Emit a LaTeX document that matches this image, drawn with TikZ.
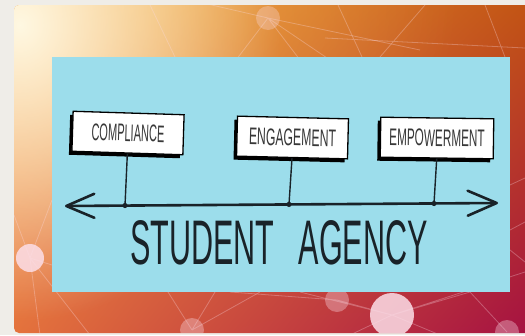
\documentclass[tikz,border=0pt]{standalone}
\usepackage{fontspec}
\setmainfont{Liberation Sans}
\usepackage{xcolor}
\usetikzlibrary{arrows.meta,positioning,shadows,fadings,shadings}

\definecolor{pagegray}{RGB}{239,237,232}
\definecolor{skypanel}{RGB}{156,221,235}
\definecolor{inkdark}{RGB}{25,34,40}
\definecolor{glowcream}{RGB}{255,248,226}
\definecolor{warmtl}{RGB}{246,168,80}
\definecolor{warmtr}{RGB}{194,84,20}
\definecolor{warmbl}{RGB}{228,114,60}
\definecolor{warmbr}{RGB}{166,18,66}
\definecolor{netpink}{RGB}{252,222,232}

% soft radial glow
\tikzfading[name=glowfade, inner color=transparent!0, outer color=transparent!100]

% squeeze text sideways into a condensed look
\newcommand{\narrowtext}[2][0.55]{\scalebox{#1}[1]{#2}}

\tikzset{
  stagebox/.style={draw=black, line width=1.3pt, fill=white, inner sep=0pt,
    minimum width=111pt, minimum height=40pt, text=black!78,
    font=\fontsize{24}{24}\selectfont,
    drop shadow={shadow xshift=-3pt, shadow yshift=-3.5pt, fill=black, opacity=1}},
  stem/.style={inkdark, line width=1.4pt},
  axisline/.style={inkdark, line width=2.6pt, line cap=round,
    arrows={Straight Barb[length=28pt,width=24pt,round]-Straight Barb[length=29pt,width=25pt,round]}},
  netline/.style={netpink, opacity=0.3, line width=0.8pt},
  netdot/.style={fill=netpink, opacity=#1},
}

\begin{document}
\begin{tikzpicture}[x=1pt, y=-1pt]
  \useasboundingbox (0,0) rectangle (525,335);
  \fill[pagegray] (0,0) rectangle (525,335);

  % warm backdrop card
  \begin{scope}
    \clip[rounded corners=5pt] (14,5) rectangle (540,333);
    \shade[upper left=warmtl, upper right=warmtr, lower left=warmbl, lower right=warmbr]
      (14,5) rectangle (525,333);
    \fill[warmtl!70!yellow!90!white, opacity=0.4, path fading=glowfade] (-160,-260) rectangle (460,260);
    \fill[glowcream, path fading=glowfade] (-240,-270) rectangle (280,320);

    % network threads
    \draw[netline] (268,18) -- (236,60) (268,18) -- (300,60) (268,18) -- (190,0)
      (268,18) -- (330,60) (268,18) -- (420,50);
    \draw[netline] (338,5) -- (362,57) (425,5) -- (380,57) (485,5) -- (505,57)
      (325,38) -- (525,48) (150,5) -- (175,57);
    \draw[netline] (30,258) -- (52,200) (30,258) -- (14,215) (30,258) -- (40,335)
      (30,258) -- (52,265) (30,258) -- (90,335);
    \draw[netline] (192,330) -- (215,292) (192,330) -- (168,292) (192,330) -- (260,292);
    \draw[netline] (392,315) -- (525,272) (392,315) -- (300,292) (392,315) -- (337,300)
      (392,315) -- (350,335) (392,315) -- (440,335) (392,315) -- (470,292)
      (337,300) -- (230,292) (507,332) -- (470,292) (510,185) -- (525,178)
      (510,230) -- (525,222) (510,250) -- (525,262);

    % network knots
    \fill[netdot=0.85] (30,258) circle (14);
    \fill[netdot=0.85] (392,315) circle (22);
    \fill[netdot=0.35] (337,300) circle (12);
    \fill[netdot=0.35] (192,330) circle (12);
    \fill[netdot=0.3] (268,18) circle (12);
    \fill[netdot=0.35] (507,332) circle (12);
  \end{scope}

  % blue board
  \fill[skypanel] (52,57) rectangle (510,292);

  % the three stages
  \node[stagebox, rotate=-1.8] (compliance) at (128,133) {\narrowtext[0.46]{COMPLIANCE}};
  \node[stagebox, rotate=-1.4] (engagement) at (292.5,137.5) {\narrowtext[0.51]{ENGAGEMENT}};
  \node[stagebox, rotate=-0.8, minimum width=113pt] (empowerment) at (437,138) {\narrowtext[0.49]{EMPOWERMENT}};

  % the scale underneath
  \coordinate (axisL) at (65,206);
  \coordinate (axisR) at (498,203);
  \coordinate (tick1) at (125,205.5);
  \coordinate (tick2) at (289,204.4);
  \coordinate (tick3) at (434,203.5);
  \draw[axisline] (axisL) -- (axisR);
  \draw[stem] (compliance.south) -- (tick1);
  \draw[stem] (engagement.south) -- (tick2);
  \draw[stem] (empowerment.south) -- (tick3);
  \foreach \t in {tick1,tick2,tick3}
    \fill[inkdark] (\t) circle (2.6);

  \node[inkdark, font=\fontsize{63}{63}\selectfont] (agency) at (279,243)
    {\narrowtext[0.485]{STUDENT\hspace{50pt}AGENCY}};
\end{tikzpicture}
\end{document}
